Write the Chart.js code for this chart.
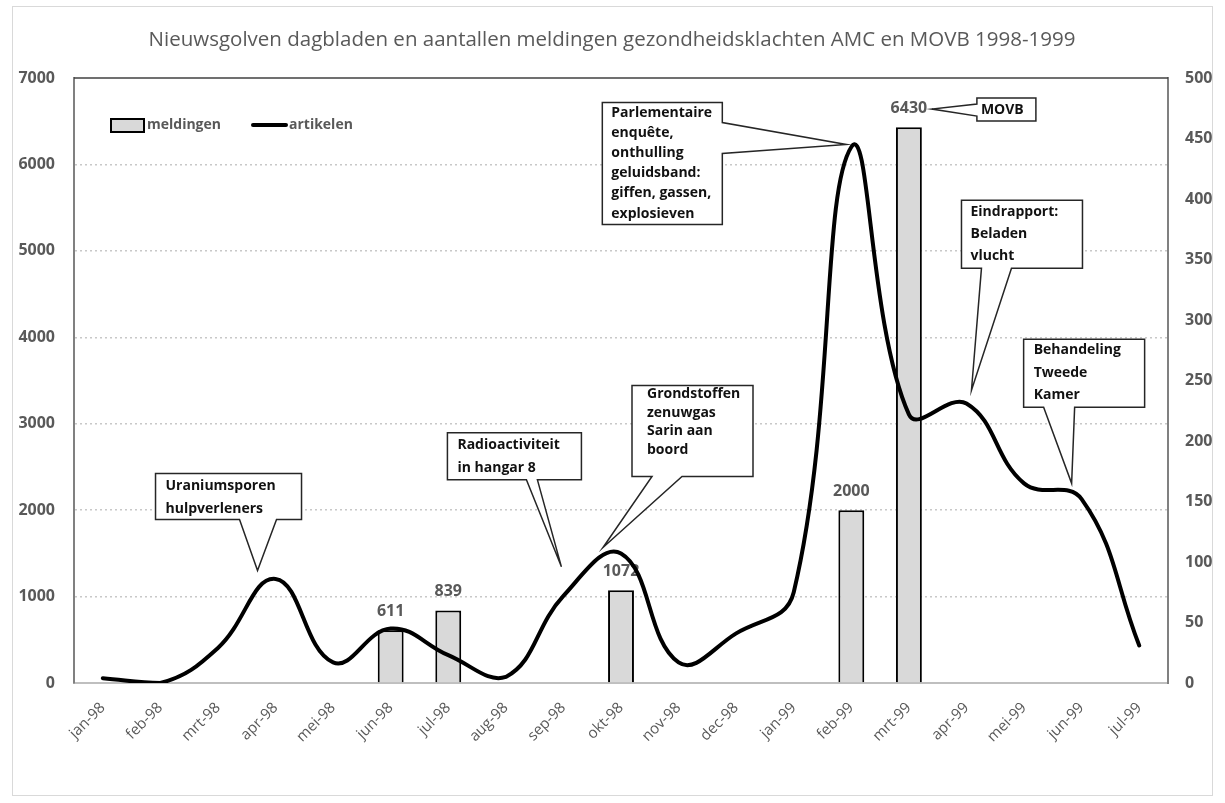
<!DOCTYPE html>
<html>
<head>
<meta charset="utf-8">
<script src="https://cdn.jsdelivr.net/npm/chart.js@4.4.1/dist/chart.umd.min.js"></script>
<style>
  html, body { margin: 0; padding: 0; background: #fff; }
  canvas { display: block; }
</style>
</head>
<body>
<canvas id="chartNieuwsgolven" width="1225" height="803"></canvas>
<script>
const titel = 'Nieuwsgolven dagbladen en aantallen meldingen gezondheidsklachten AMC en MOVB 1998-1999';

const maanden = ['jan-98', 'feb-98', 'mrt-98', 'apr-98', 'mei-98', 'jun-98', 'jul-98', 'aug-98', 'sep-98', 'okt-98',
                 'nov-98', 'dec-98', 'jan-99', 'feb-99', 'mrt-99', 'apr-99', 'mei-99', 'jun-99', 'jul-99'];
const meldingen = [null, null, null, null, null, 611, 839, null, null, 1072,
                   null, null, null, 2000, 6430, null, null, null, null];
const artikelen = [4, 0, 29, 86, 17, 45, 23, 5, 72, 107,
                   17, 41, 75, 443, 222, 231, 165, 152, 31];

// linker as (meldingen) en rechter as (artikelen)
const meldingenMax = 7000, meldingenStap = 1000;
const artikelenMax = 500, artikelenStap = 50;

// toelichtingen bij de nieuwsgolven: maand-index en waarde waar de punt naar wijst
const toelichtingen = [
  { tekst: ['Uraniumsporen', 'hulpverleners'], maand: 3, as: 'y1', waarde: 93 },
  { tekst: ['Radioactiviteit', 'in hangar 8'], maand: 8, as: 'y1', waarde: 96 },
  { tekst: ['Grondstoffen', 'zenuwgas', 'Sarin aan', 'boord'], maand: 9, as: 'y1', waarde: 112 },
  { tekst: ['Parlementaire', 'enquête,', 'onthulling', 'geluidsband:', 'giffen, gassen,', 'explosieven'], maand: 13, as: 'y1', waarde: 445 },
  { tekst: ['MOVB'], maand: 14, as: 'y', waarde: 6640 },
  { tekst: ['Eindrapport:', 'Beladen', 'vlucht'], maand: 15, as: 'y1', waarde: 242 },
  { tekst: ['Behandeling', 'Tweede', 'Kamer'], maand: 17, as: 'y1', waarde: 165 }
];

// vorm van de ballonnen (pixels, ten opzichte van de punt)
const ballonVorm = [
  { dx: -18, box: [-102, -97, 146, 46], kant: 'onder', voet: [84, 121], tx: 10, ty: 13, lh: 23 },
  { dx: -2, box: [-114, -134, 134, 47], kant: 'onder', voet: [79, 90], tx: 10, ty: 12, lh: 23 },
  { dx: -18, box: [29, -162, 121, 91], kant: 'onder', voet: [20, 50], tx: 15, ty: 9, lh: 18.5 },
  { dx: -5, box: [-244, -42, 120, 122], kant: 'rechts', voet: [20, 51], tx: 9, ty: 10, lh: 20.2 },
  { dx: 23, box: [45, -11, 59, 23], kant: 'links', voet: [6, 18], tx: 4, ty: 12, lh: 20 },
  { dx: 5, box: [-10, -190, 121, 68], kant: 'onder', voet: [20, 50], tx: 9, ty: 12, lh: 22 },
  { dx: -10, box: [-48, -144, 121, 68], kant: 'onder', voet: [20, 51], tx: 10, ty: 11, lh: 22.5 }
];

const grijs = '#595959';
const letter = '"Open Sans", "DejaVu Sans", sans-serif';

function tekenBallon(ctx, tipX, tipY, v, regels) {
  const L = tipX + v.box[0], T = tipY + v.box[1], W = v.box[2], H = v.box[3];
  const R = L + W, B = T + H;
  ctx.beginPath();
  if (v.kant === 'onder') {
    ctx.moveTo(L, T); ctx.lineTo(R, T); ctx.lineTo(R, B);
    ctx.lineTo(L + v.voet[1], B); ctx.lineTo(tipX, tipY); ctx.lineTo(L + v.voet[0], B);
    ctx.lineTo(L, B);
  } else if (v.kant === 'rechts') {
    ctx.moveTo(L, T); ctx.lineTo(R, T); ctx.lineTo(R, T + v.voet[0]);
    ctx.lineTo(tipX, tipY); ctx.lineTo(R, T + v.voet[1]);
    ctx.lineTo(R, B); ctx.lineTo(L, B);
  } else {
    ctx.moveTo(L, T); ctx.lineTo(R, T); ctx.lineTo(R, B); ctx.lineTo(L, B);
    ctx.lineTo(L, T + v.voet[1]); ctx.lineTo(tipX, tipY); ctx.lineTo(L, T + v.voet[0]);
  }
  ctx.closePath();
  ctx.fillStyle = '#fff';
  ctx.fill();
  ctx.strokeStyle = '#262626';
  ctx.lineWidth = 1.5;
  ctx.lineJoin = 'miter';
  ctx.stroke();
  ctx.fillStyle = '#111';
  ctx.font = 'bold 14px ' + letter;
  ctx.textAlign = 'left';
  ctx.textBaseline = 'middle';
  regels.forEach((r, i) => ctx.fillText(r, L + v.tx, T + v.ty + i * v.lh));
}

const extraTekenen = {
  id: 'extraTekenen',
  beforeDraw(chart) {
    const ctx = chart.ctx;
    ctx.save();
    ctx.fillStyle = '#fff';
    ctx.fillRect(0, 0, chart.width, chart.height);
    ctx.strokeStyle = '#d9d9d9';
    ctx.lineWidth = 1;
    ctx.strokeRect(12.5, 6.5, 1200, 789);
    ctx.fillStyle = grijs;
    ctx.font = '20.5px ' + letter;
    ctx.textAlign = 'center';
    ctx.textBaseline = 'middle';
    ctx.fillText(titel, 612, 40);
    ctx.restore();
  },
  afterDatasetDraw(chart, args) {
    if (args.index !== 0) return;
    const ctx = chart.ctx;
    ctx.save();
    ctx.fillStyle = grijs;
    ctx.font = 'bold 16px ' + letter;
    ctx.textAlign = 'center';
    ctx.textBaseline = 'middle';
    args.meta.data.forEach((bar, i) => {
      if (meldingen[i] == null) return;
      ctx.fillText(String(meldingen[i]), bar.x, bar.y - 19);
    });
    ctx.restore();
  },
  afterDatasetsDraw(chart) {
    const { ctx, chartArea: ca, scales } = chart;
    ctx.save();
    // bovenrand van het plotvlak
    ctx.strokeStyle = '#404040';
    ctx.lineWidth = 1.5;
    ctx.beginPath();
    ctx.moveTo(ca.left, ca.top);
    ctx.lineTo(ca.right, ca.top);
    ctx.stroke();

    // legenda
    const lx = ca.left + 37, ly = ca.top + 47;
    ctx.fillStyle = '#d9d9d9';
    ctx.fillRect(lx, ly - 6, 33, 13);
    ctx.strokeStyle = '#000';
    ctx.lineWidth = 2;
    ctx.strokeRect(lx, ly - 6, 33, 13);
    ctx.fillStyle = grijs;
    ctx.font = 'bold 14px ' + letter;
    ctx.textAlign = 'left';
    ctx.textBaseline = 'middle';
    ctx.fillText('meldingen', lx + 36, ly);
    ctx.strokeStyle = '#000';
    ctx.lineWidth = 4;
    ctx.lineCap = 'round';
    ctx.beginPath();
    ctx.moveTo(lx + 142, ly);
    ctx.lineTo(lx + 175, ly);
    ctx.stroke();
    ctx.lineCap = 'butt';
    ctx.fillText('artikelen', lx + 178, ly);

    // ballonnen
    toelichtingen.forEach((t, i) => {
      const v = ballonVorm[i];
      const tipX = scales.x.getPixelForValue(t.maand) + v.dx;
      const tipY = scales[t.as].getPixelForValue(t.waarde);
      tekenBallon(ctx, tipX, tipY, v, t.tekst);
    });
    ctx.restore();
  }
};

const ctxNieuwsgolven = document.getElementById('chartNieuwsgolven').getContext('2d');
new Chart(ctxNieuwsgolven, {
  data: {
    labels: maanden,
    datasets: [{
      type: 'bar',
      label: 'meldingen',
      data: meldingen,
      yAxisID: 'y',
      backgroundColor: '#d9d9d9',
      borderColor: '#000',
      borderWidth: 2,
      barPercentage: 0.45,
      categoryPercentage: 1,
      order: 1
    }, {
      type: 'line',
      label: 'artikelen',
      data: artikelen,
      yAxisID: 'y1',
      borderColor: '#000',
      borderWidth: 4,
      tension: 0.42,
      pointRadius: 0,
      borderCapStyle: 'round',
      order: 0
    }]
  },
  options: {
    responsive: false,
    animation: false,
    layout: { padding: { top: 78, left: 0, right: 0, bottom: 0 } },
    plugins: {
      legend: { display: false },
      title: { display: false },
      tooltip: { enabled: false }
    },
    scales: {
      x: {
        offset: true,
        grid: { display: false },
        border: { color: '#bfbfbf', width: 2 },
        ticks: {
          color: grijs,
          font: { family: letter, size: 15 },
          minRotation: 45,
          maxRotation: 45,
          padding: 8,
          autoSkip: false
        },
        afterFit: s => { s.height = 120; }
      },
      y: {
        position: 'left',
        min: 0,
        max: meldingenMax,
        grid: {
          drawTicks: false,
          lineWidth: 1.5,
          color: c => (c.tick.value === 0 || c.tick.value === meldingenMax) ? 'rgba(0,0,0,0)' : '#c8c8c8'
        },
        border: { color: '#808080', width: 2, dash: [2, 3] },
        ticks: {
          stepSize: meldingenStap,
          color: grijs,
          font: { family: letter, size: 16, weight: 'bold' },
          padding: 19,
          callback: v => String(v)
        },
        afterFit: s => { s.width = 74; }
      },
      y1: {
        position: 'right',
        min: 0,
        max: artikelenMax,
        grid: { drawOnChartArea: false, drawTicks: false },
        border: { color: '#808080', width: 2 },
        ticks: {
          stepSize: artikelenStap,
          color: grijs,
          font: { family: letter, size: 16, weight: 'bold' },
          padding: 17,
          callback: v => String(v)
        },
        afterFit: s => { s.width = 57; }
      }
    }
  },
  plugins: [extraTekenen]
});
</script>
</body>
</html>
